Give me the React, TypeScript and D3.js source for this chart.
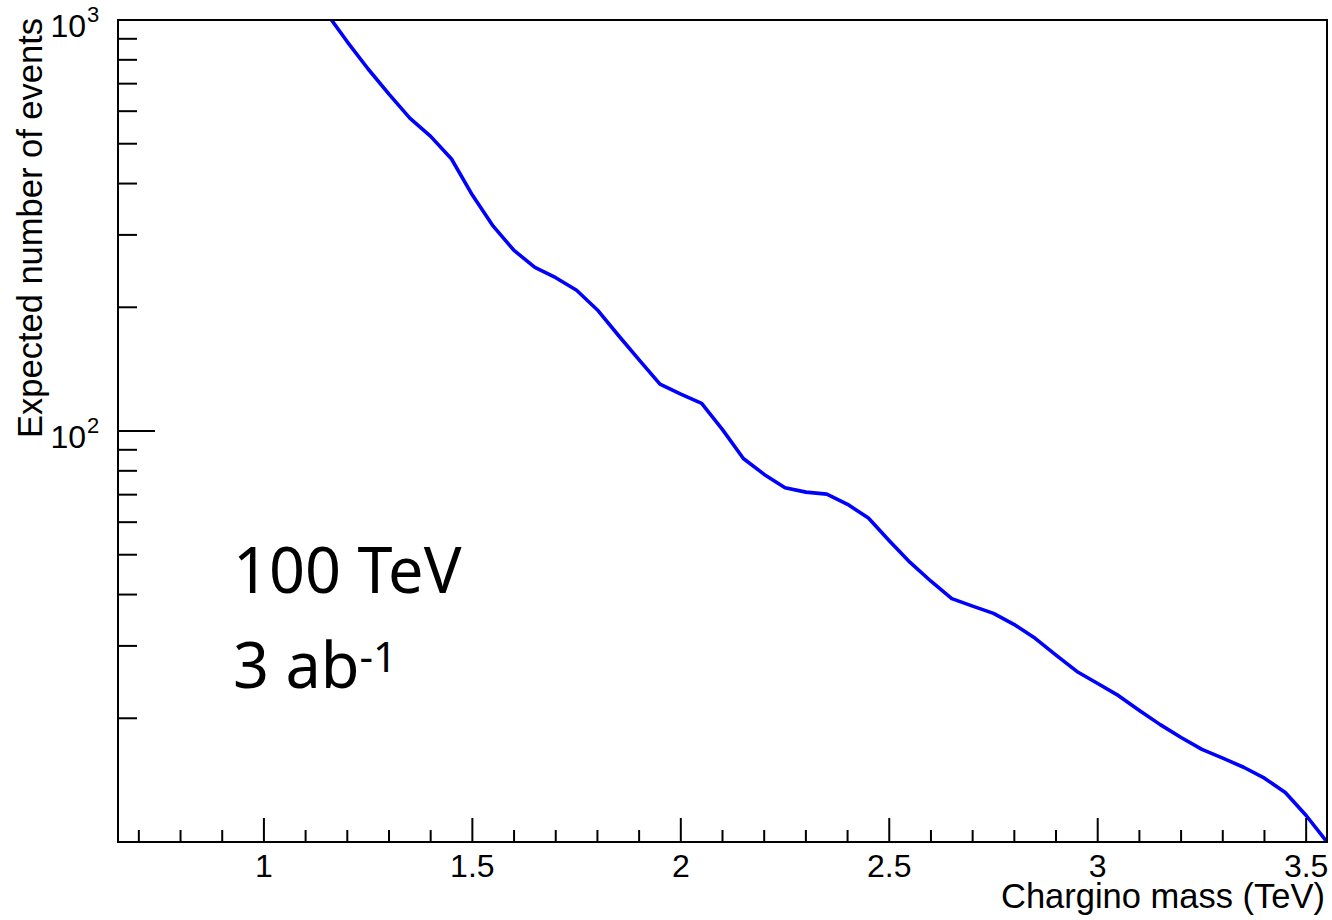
import React from "react";
import * as d3 from "d3";

const massTeV = [
  1.15, 1.2, 1.25, 1.3, 1.35, 1.4, 1.45, 1.5, 1.55, 1.6, 1.65, 1.7, 1.75, 1.8, 1.85, 1.9, 1.95,
  2.0, 2.05, 2.1, 2.15, 2.2, 2.25, 2.3, 2.35, 2.4, 2.45, 2.5, 2.55, 2.6, 2.65, 2.7, 2.75, 2.8,
  2.85, 2.9, 2.95, 3.0, 3.05, 3.1, 3.15, 3.2, 3.25, 3.3, 3.35, 3.4, 3.45, 3.5, 3.55,
];
const expectedEvents = [
  1040, 885, 760, 660, 577, 521, 459, 375, 315, 275, 250, 236, 220, 197, 171, 149, 130,
  123, 116.8, 100.8, 85.7, 78.4, 72.8, 71.0, 70.2, 66.3, 61.4, 54.1, 47.9, 43.1, 39.1, 37.5,
  36.0, 33.8, 31.3, 28.5, 26.0, 24.3, 22.7, 20.9, 19.3, 17.96, 16.8, 16.0, 15.2, 14.3, 13.2,
  11.6, 10.0,
];
const xMajorTicks = [1, 1.5, 2, 2.5, 3, 3.5];
const xTickLabels = ["1", "1.5", "2", "2.5", "3", "3.5"];
const yMajorTicks = [100, 1000];
const yTickExponents = ["2", "3"];
const xDomain = [0.65, 3.55];
const yDomain = [10, 1000];

const L = 118, R = 1327, T = 20, B = 842;

export default function App() {
  const x = d3.scaleLinear().domain(xDomain).range([L, R]);
  const y = d3.scaleLog().domain(yDomain).range([B, T]);
  const pts = massTeV.map((m, i) => [m, expectedEvents[i]] as [number, number]);
  const line = d3
    .line<[number, number]>()
    .x((d) => x(d[0]))
    .y((d) => y(d[1]))
    .curve(d3.curveLinear);

  const xMinor: number[] = [];
  for (let v = 0.7; v <= 3.55 + 1e-9; v += 0.1) {
    const r = Math.round(v * 10) / 10;
    if (Math.abs(r * 2 - Math.round(r * 2)) > 1e-6) xMinor.push(r);
  }
  const yMinor: number[] = [];
  for (const dec of [10, 100]) {
    for (let k = 2; k <= 9; k++) yMinor.push(dec * k);
  }

  const font = "Liberation Sans, Arial, Helvetica, sans-serif";

  return (
    <svg
      width={1332}
      height={920}
      style={{ position: "absolute", left: 0, top: 0, background: "#fff" }}
    >
      <defs>
        <clipPath id="frameClip">
          <rect x={L} y={T} width={R - L} height={B - T} />
        </clipPath>
      </defs>
      <rect x={0} y={0} width={1332} height={920} fill="#fff" />

      {/* curve */}
      <path
        d={line(pts) || ""}
        fill="none"
        stroke="#0000ff"
        strokeWidth={3.6}
        strokeLinejoin="round"
        clipPath="url(#frameClip)"
      />

      {/* frame */}
      <rect x={L} y={T} width={R - L} height={B - T} fill="none" stroke="#000" strokeWidth={2} />

      {/* x ticks */}
      {xMajorTicks.map((t) => (
        <line key={"xm" + t} x1={x(t)} x2={x(t)} y1={B} y2={B - 24} stroke="#000" strokeWidth={2} />
      ))}
      {xMinor.map((t) => (
        <line key={"xn" + t} x1={x(t)} x2={x(t)} y1={B} y2={B - 12} stroke="#000" strokeWidth={2} />
      ))}
      {xMajorTicks.map((t, i) => (
        <text
          key={"xl" + t}
          x={x(t)}
          y={877}
          textAnchor="middle"
          fontFamily={font}
          fontSize={32}
          fill="#000"
        >
          {xTickLabels[i]}
        </text>
      ))}
      <text x={1325} y={908} textAnchor="end" fontFamily={font} fontSize={34.5} fill="#000">
        Chargino mass (TeV)
      </text>

      {/* y ticks */}
      {yMajorTicks.map((t) => (
        <line key={"ym" + t} x1={L} x2={L + 37} y1={y(t)} y2={y(t)} stroke="#000" strokeWidth={2} />
      ))}
      {yMinor.map((t) => (
        <line key={"yn" + t} x1={L} x2={L + 19} y1={y(t)} y2={y(t)} stroke="#000" strokeWidth={2} />
      ))}
      {yMajorTicks.map((t, i) => (
        <text
          key={"yl" + t}
          x={86}
          y={y(t) + 17}
          textAnchor="end"
          fontFamily={font}
          fontSize={32}
          fill="#000"
        >
          10
          <tspan x={87} dy={-15} textAnchor="start" fontSize={22}>
            {yTickExponents[i]}
          </tspan>
        </text>
      ))}
      <text
        transform={`translate(42, 18) rotate(-90)`}
        textAnchor="end"
        fontFamily={font}
        fontSize={34.5}
        fill="#000"
      >
        Expected number of events
      </text>

      {/* annotations */}
      <text x={233} y={593} fontFamily="Noto Sans, Open Sans, sans-serif" fontSize={63} fill="#000">
        100 TeV
      </text>
      <text x={233} y={688} fontFamily="Noto Sans, Open Sans, sans-serif" fontSize={63} fill="#000">
        3 ab
        <tspan dy={-16} fontSize={42}>
          -1
        </tspan>
      </text>
    </svg>
  );
}
